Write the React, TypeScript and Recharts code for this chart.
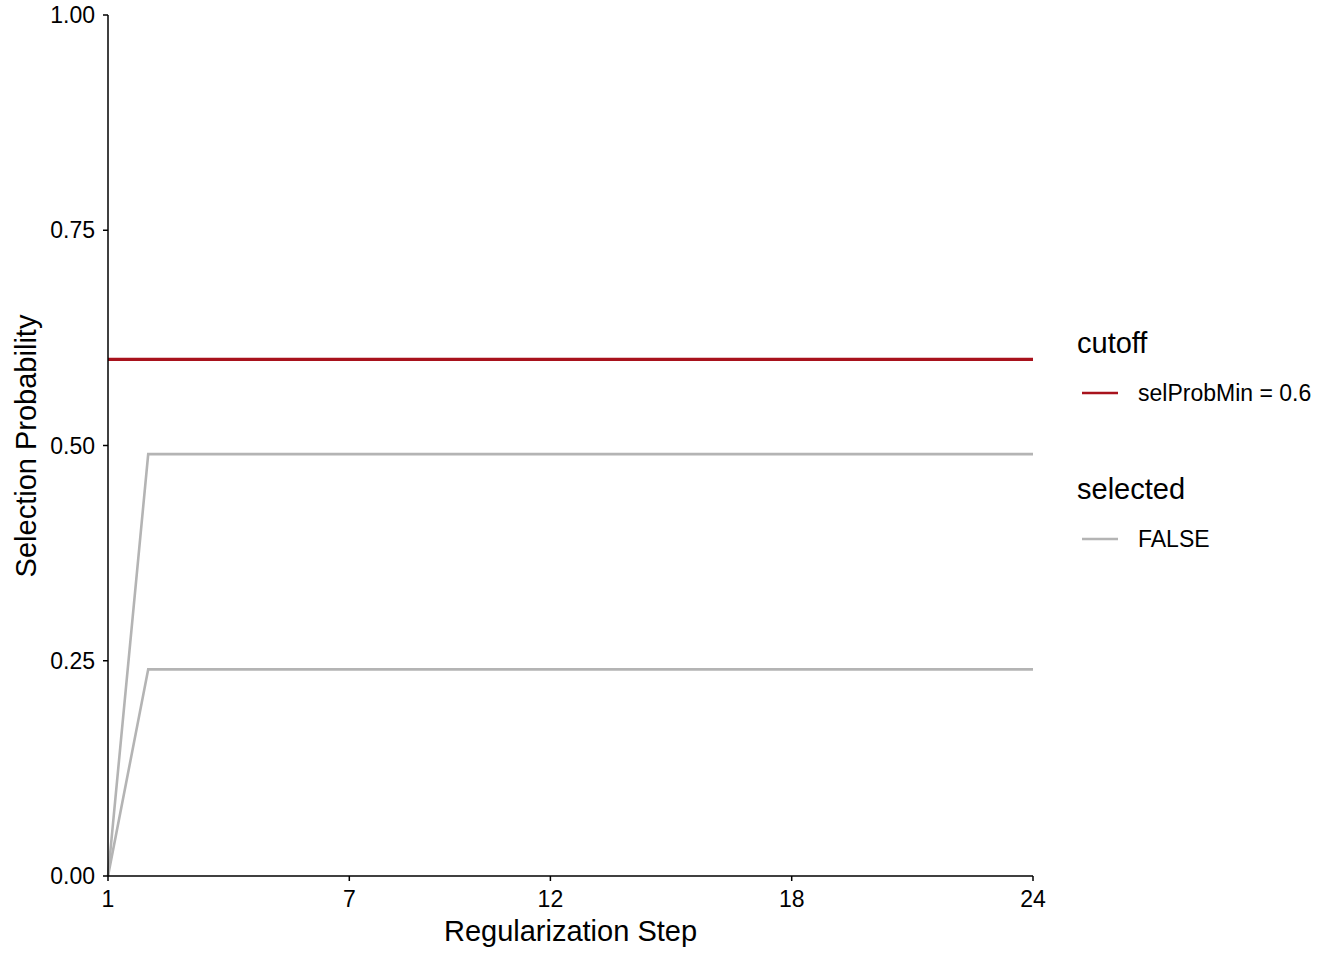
import React from 'react';
import { LineChart, Line, XAxis, YAxis, Legend } from 'recharts';

const steps = [1, 2, 3, 4, 5, 6, 7, 8, 9, 10, 11, 12, 13, 14, 15, 16, 17, 18, 19, 20, 21, 22, 23, 24];
const varA = [0, 0.49, 0.49, 0.49, 0.49, 0.49, 0.49, 0.49, 0.49, 0.49, 0.49, 0.49, 0.49, 0.49, 0.49, 0.49, 0.49, 0.49, 0.49, 0.49, 0.49, 0.49, 0.49, 0.49];
const varB = [0, 0.24, 0.24, 0.24, 0.24, 0.24, 0.24, 0.24, 0.24, 0.24, 0.24, 0.24, 0.24, 0.24, 0.24, 0.24, 0.24, 0.24, 0.24, 0.24, 0.24, 0.24, 0.24, 0.24];
const cutoff = [0.6, 0.6, 0.6, 0.6, 0.6, 0.6, 0.6, 0.6, 0.6, 0.6, 0.6, 0.6, 0.6, 0.6, 0.6, 0.6, 0.6, 0.6, 0.6, 0.6, 0.6, 0.6, 0.6, 0.6];
const xTicks = [1, 7, 12, 18, 24];
const yTicks = [0, 0.25, 0.5, 0.75, 1];

const RED = '#A8121C';
const GRAY = '#B4B4B4';
const FONT = '"Liberation Sans", Arial, Helvetica, sans-serif';

const legendGroups = [
  { title: 'cutoff', items: [{ label: 'selProbMin = 0.6', color: RED }] },
  { title: 'selected', items: [{ label: 'FALSE', color: GRAY }] },
];

const data = steps.map((step, i) => ({ step, a: varA[i], b: varB[i], cutoff: cutoff[i] }));

function LegendBox() {
  return (
    <svg width={284} height={260} style={{ fontFamily: FONT }}>
      {legendGroups.map((g, gi) => {
        const top = gi * 146;
        return (
          <g key={g.title}>
            <text x={17} y={top + 43} fontSize={29} fill="#000">
              {g.title}
            </text>
            {g.items.map((it, ii) => {
              const cy = top + 83 + ii * 40;
              return (
                <g key={it.label}>
                  <line x1={22} x2={58} y1={cy} y2={cy} stroke={it.color} strokeWidth={2.4} />
                  <text x={78} y={cy} dy="0.355em" fontSize={23} fill="#000">
                    {it.label}
                  </text>
                </g>
              );
            })}
          </g>
        );
      })}
    </svg>
  );
}

export default function App() {
  return (
    <div style={{ position: 'absolute', left: 0, top: 0, width: 1344, height: 960, background: '#fff' }}>
      <LineChart
        width={1344}
        height={960}
        data={data}
        margin={{ top: 15, right: 311, bottom: 0, left: 0 }}
        style={{ fontFamily: FONT }}
      >
        <XAxis
          dataKey="step"
          type="number"
          domain={[1, 24]}
          ticks={xTicks}
          height={84}
          tickSize={5}
          tickMargin={10}
          axisLine={{ stroke: '#000', strokeWidth: 1.5 }}
          tickLine={{ stroke: '#000', strokeWidth: 1.5 }}
          tick={{ fill: '#000', fontSize: 23 }}
          label={{
            content: () => (
              <text x={570.5} y={941} textAnchor="middle" fontSize={29} fill="#000">
                Regularization Step
              </text>
            ),
          }}
        />
        <YAxis
          type="number"
          domain={[0, 1]}
          ticks={yTicks}
          width={108}
          tickSize={5}
          tickMargin={8}
          tickFormatter={(v: number) => v.toFixed(2)}
          axisLine={{ stroke: '#000', strokeWidth: 1.5 }}
          tickLine={{ stroke: '#000', strokeWidth: 1.5 }}
          tick={{ fill: '#000', fontSize: 23 }}
          label={{
            content: () => (
              <text
                x={26}
                y={446}
                dy="0.355em"
                textAnchor="middle"
                fontSize={29}
                fill="#000"
                transform="rotate(-90, 26, 446)"
              >
                Selection Probability
              </text>
            ),
          }}
        />
        <Legend
          layout="horizontal"
          align="center"
          verticalAlign="middle"
          wrapperStyle={{ left: 1060, top: 310, width: 284, height: 260 }}
          content={() => <LegendBox />}
        />
        <Line type="linear" dataKey="a" stroke={GRAY} strokeWidth={2.6} dot={false} isAnimationActive={false} />
        <Line type="linear" dataKey="b" stroke={GRAY} strokeWidth={2.6} dot={false} isAnimationActive={false} />
        <Line type="linear" dataKey="cutoff" stroke={RED} strokeWidth={3.4} dot={false} isAnimationActive={false} />
      </LineChart>
    </div>
  );
}
